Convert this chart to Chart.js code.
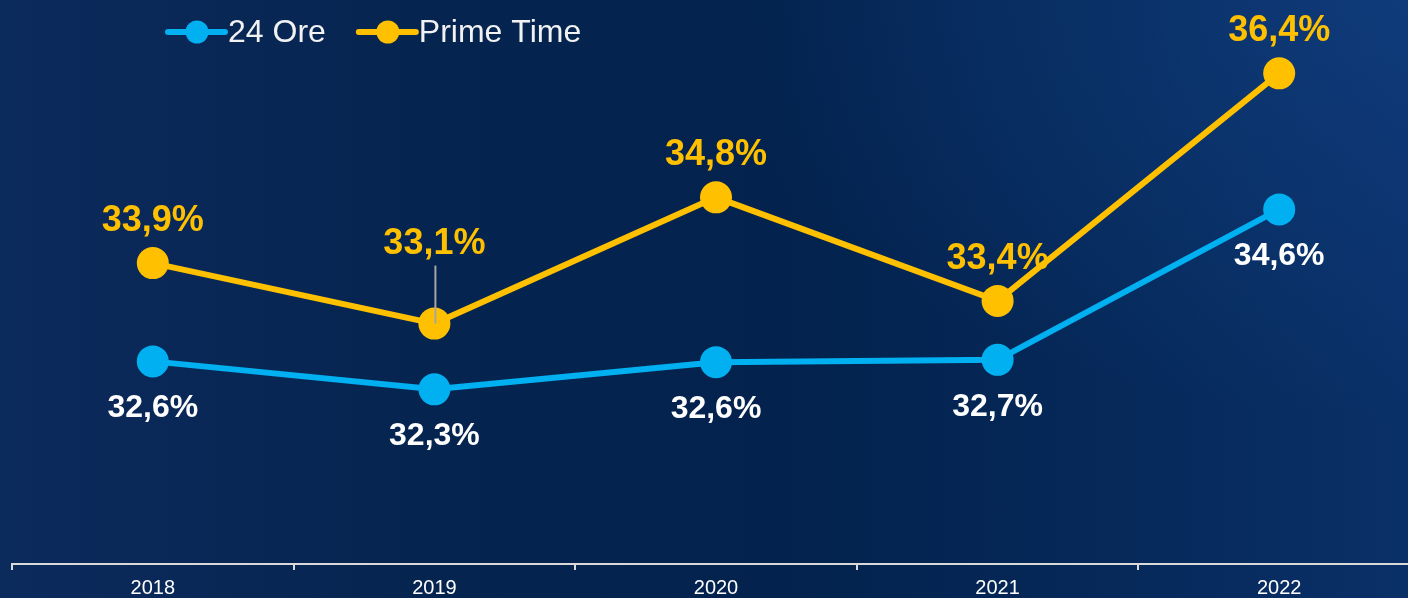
<!DOCTYPE html>
<html>
<head>
<meta charset="utf-8">
<script src="https://cdn.jsdelivr.net/npm/chart.js@4"></script>
<style>
  html, body { margin: 0; padding: 0; width: 1408px; height: 598px; overflow: hidden; }
  body {
    background:
      radial-gradient(ellipse 700px 420px at 1408px 0px, rgba(20,70,140,0.5), rgba(20,70,140,0) 100%),
      linear-gradient(to right, #0c2b5d 0%, #05244f 30%, #03224d 55%, #06295a 80%, #0a3068 100%);
  }
  #clip { position: relative; width: 1408px; height: 598px; overflow: hidden; }
  #chart { position: absolute; left: 0; top: 0; }
</style>
</head>
<body>
<div id="clip"><canvas id="chart" width="1424" height="598"></canvas></div>
<script>
// ---- data ----
const years = ["2018", "2019", "2020", "2021", "2022"];
const ore24 = [32.60, 32.23, 32.59, 32.62, 34.61];
const primeTime = [33.90, 33.10, 34.77, 33.40, 36.41];
const ore24Labels = ["32,6%", "32,3%", "32,6%", "32,7%", "34,6%"];
const primeLabels = ["33,9%", "33,1%", "34,8%", "33,4%", "36,4%"];

const CYAN = "#00b0f0";
const YELLOW = "#ffc000";
const FONT = "'Liberation Sans', Arial, sans-serif";

// value labels: yellow above, white below; 2019 prime label lifted with a leader line
const valueLabelPlugin = {
  id: "valueLabels",
  afterDatasetsDraw(chart) {
    const { ctx } = chart;
    ctx.save();
    ctx.textAlign = "center";
    ctx.textBaseline = "middle";

    const prime = chart.getDatasetMeta(1).data;
    prime.forEach((pt, i) => {
      const lift = i === 1 ? 80 : 42;
      if (i === 1) {
        ctx.strokeStyle = "#a6a6a6";
        ctx.lineWidth = 2;
        ctx.beginPath();
        ctx.moveTo(pt.x + 1, pt.y - lift + 22);
        ctx.lineTo(pt.x + 1, pt.y);
        ctx.stroke();
      }
      ctx.fillStyle = YELLOW;
      ctx.font = "bold 36px " + FONT;
      ctx.fillText(primeLabels[i], pt.x, pt.y - lift);
    });

    const ore = chart.getDatasetMeta(0).data;
    ore.forEach((pt, i) => {
      ctx.fillStyle = "#ffffff";
      ctx.font = "bold 32px " + FONT;
      ctx.fillText(ore24Labels[i], pt.x, pt.y + 47);
    });
    ctx.restore();
  }
};

// legend drawn on the plot, line + dot symbol
const legendPlugin = {
  id: "lineDotLegend",
  afterDraw(chart) {
    const { ctx } = chart;
    const items = [
      { text: "24 Ore", color: CYAN },
      { text: "Prime Time", color: YELLOW }
    ];
    ctx.save();
    ctx.font = "32px " + FONT;
    ctx.textBaseline = "middle";
    let x = 168;
    const y = 32;
    items.forEach(it => {
      ctx.strokeStyle = it.color;
      ctx.lineWidth = 6;
      ctx.lineCap = "round";
      ctx.beginPath();
      ctx.moveTo(x, y);
      ctx.lineTo(x + 57, y);
      ctx.stroke();
      ctx.fillStyle = it.color;
      ctx.beginPath();
      ctx.arc(x + 29, y, 11.5, 0, Math.PI * 2);
      ctx.fill();
      ctx.fillStyle = "#f2f2f2";
      ctx.fillText(it.text, x + 60, y + 1);
      x += 60 + ctx.measureText(it.text).width + 33;
    });
    ctx.restore();
  }
};

new Chart(document.getElementById("chart"), {
  type: "line",
  plugins: [valueLabelPlugin, legendPlugin],
  data: {
    labels: years,
    datasets: [
      {
        label: "24 Ore",
        data: ore24,
        borderColor: CYAN,
        backgroundColor: CYAN,
        borderWidth: 6,
        pointRadius: 16,
        pointHoverRadius: 16,
        pointBorderWidth: 0,
        tension: 0
      },
      {
        label: "Prime Time",
        data: primeTime,
        borderColor: YELLOW,
        backgroundColor: YELLOW,
        borderWidth: 6,
        pointRadius: 16,
        pointHoverRadius: 16,
        pointBorderWidth: 0,
        tension: 0
      }
    ]
  },
  options: {
    responsive: false,
    animation: false,
    layout: { autoPadding: false, padding: { left: 12, right: 4, top: 0, bottom: -8 } },
    plugins: {
      legend: { display: false },
      tooltip: { enabled: false }
    },
    scales: {
      x: {
        offset: true,
        grid: {
          offset: true,
          drawOnChartArea: false,
          drawTicks: true,
          tickLength: 6,
          color: "#d9d9d9",
          lineWidth: 2
        },
        border: { display: true, color: "#d9d9d9", width: 2 },
        ticks: {
          color: "#ffffff",
          font: { family: FONT, size: 20, lineHeight: 1 },
          padding: 8,
          maxRotation: 0
        }
      },
      y: {
        display: false,
        min: 29.92,
        max: 37.38
      }
    }
  }
});
</script>
</body>
</html>
